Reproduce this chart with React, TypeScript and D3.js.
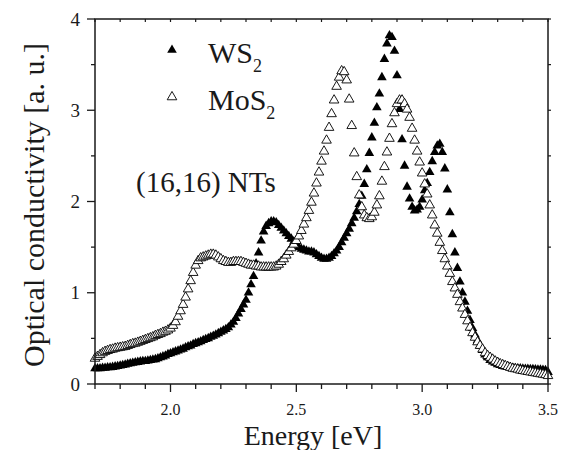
import React from "react";
import * as d3 from "d3";

// photon energy (eV), one point every 0.01 eV
const energy = [
  1.70, 1.71, 1.72, 1.73, 1.74, 1.75, 1.76, 1.77, 1.78, 1.79,
  1.80, 1.81, 1.82, 1.83, 1.84, 1.85, 1.86, 1.87, 1.88, 1.89,
  1.90, 1.91, 1.92, 1.93, 1.94, 1.95, 1.96, 1.97, 1.98, 1.99,
  2.00, 2.01, 2.02, 2.03, 2.04, 2.05, 2.06, 2.07, 2.08, 2.09,
  2.10, 2.11, 2.12, 2.13, 2.14, 2.15, 2.16, 2.17, 2.18, 2.19,
  2.20, 2.21, 2.22, 2.23, 2.24, 2.25, 2.26, 2.27, 2.28, 2.29,
  2.30, 2.31, 2.32, 2.33, 2.34, 2.35, 2.36, 2.37, 2.38, 2.39,
  2.40, 2.41, 2.42, 2.43, 2.44, 2.45, 2.46, 2.47, 2.48, 2.49,
  2.50, 2.51, 2.52, 2.53, 2.54, 2.55, 2.56, 2.57, 2.58, 2.59,
  2.60, 2.61, 2.62, 2.63, 2.64, 2.65, 2.66, 2.67, 2.68, 2.69,
  2.70, 2.71, 2.72, 2.73, 2.74, 2.75, 2.76, 2.77, 2.78, 2.79,
  2.80, 2.81, 2.82, 2.83, 2.84, 2.85, 2.86, 2.87, 2.88, 2.89,
  2.90, 2.91, 2.92, 2.93, 2.94, 2.95, 2.96, 2.97, 2.98, 2.99,
  3.00, 3.01, 3.02, 3.03, 3.04, 3.05, 3.06, 3.07, 3.08, 3.09,
  3.10, 3.11, 3.12, 3.13, 3.14, 3.15, 3.16, 3.17, 3.18, 3.19,
  3.20, 3.21, 3.22, 3.23, 3.24, 3.25, 3.26, 3.27, 3.28, 3.29,
  3.30, 3.31, 3.32, 3.33, 3.34, 3.35, 3.36, 3.37, 3.38, 3.39,
  3.40, 3.41, 3.42, 3.43, 3.44, 3.45, 3.46, 3.47, 3.48, 3.49,
  3.50,
];

// WS2 nanotube, filled triangles
const ws2 = [
  0.17, 0.17, 0.17, 0.175, 0.175, 0.18, 0.18, 0.185, 0.19, 0.195,
  0.2, 0.205, 0.21, 0.22, 0.225, 0.23, 0.235, 0.24, 0.245, 0.25,
  0.25, 0.255, 0.26, 0.265, 0.27, 0.28, 0.29, 0.3, 0.31, 0.325,
  0.335, 0.345, 0.355, 0.365, 0.375, 0.385, 0.4, 0.41, 0.42, 0.435,
  0.445, 0.455, 0.465, 0.48, 0.49, 0.5, 0.515, 0.525, 0.54, 0.555,
  0.57, 0.585, 0.6, 0.62, 0.65, 0.68, 0.72, 0.77, 0.82, 0.87,
  0.92, 1.0, 1.09, 1.18, 1.32, 1.44, 1.57, 1.67, 1.73, 1.76,
  1.78, 1.78, 1.77, 1.74, 1.71, 1.68, 1.65, 1.62, 1.59, 1.56,
  1.53, 1.5, 1.48, 1.47, 1.46, 1.45, 1.45, 1.44, 1.42, 1.4,
  1.38, 1.37, 1.37, 1.38, 1.4, 1.43, 1.46, 1.5, 1.55, 1.6,
  1.65, 1.7, 1.76, 1.82, 1.89, 1.97, 2.06, 2.19, 2.35, 2.53,
  2.7, 2.86, 3.03, 3.18, 3.36, 3.56, 3.73, 3.82, 3.8, 3.65,
  3.38, 3.01, 2.68, 2.39, 2.16, 2.03, 1.94, 1.9, 1.91, 1.94,
  2.02, 2.12, 2.2, 2.32, 2.44, 2.54, 2.61, 2.63, 2.54, 2.36,
  2.13, 1.88, 1.64, 1.44, 1.27, 1.12, 1.0, 0.9, 0.8, 0.7,
  0.61, 0.54, 0.48, 0.42, 0.37, 0.32, 0.29, 0.26, 0.245, 0.23,
  0.215, 0.205, 0.195, 0.19, 0.185, 0.18, 0.175, 0.172, 0.17, 0.168,
  0.166, 0.165, 0.163, 0.162, 0.16, 0.158, 0.156, 0.155, 0.153, 0.15,
  0.13,
];

// MoS2 nanotube, open triangles
const mos2 = [
  0.28, 0.3, 0.32, 0.34, 0.355, 0.365, 0.375, 0.38, 0.39, 0.395,
  0.4, 0.405, 0.41, 0.42, 0.43, 0.44, 0.445, 0.455, 0.465, 0.475,
  0.485, 0.495, 0.505, 0.515, 0.53, 0.54, 0.55, 0.565, 0.575, 0.59,
  0.61, 0.64, 0.68, 0.74, 0.8, 0.87, 0.95, 1.04, 1.13, 1.22,
  1.3, 1.35, 1.38, 1.39, 1.4, 1.41, 1.42, 1.42, 1.41, 1.39,
  1.37, 1.35, 1.34, 1.33, 1.33, 1.34, 1.34, 1.34, 1.34, 1.33,
  1.32, 1.31, 1.3, 1.3, 1.29, 1.29, 1.28, 1.28, 1.28, 1.28,
  1.28, 1.28, 1.29, 1.31, 1.34, 1.37, 1.41, 1.45, 1.49, 1.53,
  1.57, 1.62, 1.68, 1.75, 1.82, 1.9, 1.99, 2.09, 2.2, 2.32,
  2.44, 2.55, 2.67, 2.81, 2.96, 3.11, 3.26, 3.36, 3.43, 3.42,
  3.33, 3.12, 2.83, 2.53, 2.27, 2.07, 1.94, 1.85, 1.82, 1.81,
  1.83, 1.88, 1.96, 2.06, 2.22, 2.38, 2.54, 2.69, 2.85, 2.97,
  3.07, 3.11, 3.11, 3.07, 3.01, 2.92, 2.8, 2.67, 2.55, 2.43,
  2.31, 2.19, 2.08, 1.96, 1.85, 1.74, 1.65, 1.55, 1.46, 1.37,
  1.29, 1.21, 1.12, 1.05, 0.98, 0.9, 0.83, 0.76, 0.69, 0.62,
  0.56, 0.51, 0.46, 0.42, 0.38, 0.34, 0.31, 0.29, 0.27, 0.25,
  0.235, 0.22, 0.21, 0.2, 0.19, 0.18, 0.17, 0.165, 0.16, 0.15,
  0.145, 0.14, 0.135, 0.13, 0.125, 0.12, 0.115, 0.11, 0.105, 0.1,
  0.09,
];

const xTickLabels = ["2.0", "2.5", "3.0", "3.5"];
const yTickLabels = ["0", "1", "2", "3", "4"];

const serif = "Liberation Serif, Times New Roman, Times, serif";

export default function App() {
  const width = 564;
  const height = 450;
  const left = 95, right = 548, top = 19, bottom = 384;

  const x = d3.scaleLinear().domain([1.7, 3.5]).range([left, right]);
  const y = d3.scaleLinear().domain([0, 4]).range([bottom, top]);

  const tri = d3.symbol().type(d3.symbolTriangle).size(40)() as string;

  const xMinor = x.ticks(18);
  const yMinor = y.ticks(8);
  const ink = "#1a1a1a";
  const txt = { fontFamily: serif };

  return (
    <svg
      width={width}
      height={height}
      style={{ position: "absolute", left: 0, top: 0, background: "#fff", fontFamily: serif }}
    >
      {/* WS2 first, MoS2 drawn on top */}
      <g>
        {energy.map((e, i) => (
          <path key={"w" + i} d={tri} transform={`translate(${x(e)},${y(ws2[i])})`} fill="#000" />
        ))}
      </g>
      <g>
        {energy.map((e, i) => (
          <path
            key={"m" + i}
            d={tri}
            transform={`translate(${x(e)},${y(mos2[i])})`}
            fill="#fff"
            stroke="#000"
            strokeWidth={0.9}
          />
        ))}
      </g>

      {/* frame */}
      <rect x={left} y={top} width={right - left} height={bottom - top} fill="none" stroke={ink} strokeWidth={1.5} />

      {/* bottom / top ticks */}
      {xMinor.map((t, i) => {
        const major = Math.abs(t * 2 - Math.round(t * 2)) < 1e-6;
        return (
          <g key={"xt" + i}>
            <line x1={x(t)} x2={x(t)} y1={bottom} y2={bottom + (major ? 8 : 5)} stroke={ink} strokeWidth={1.3} />
            <line x1={x(t)} x2={x(t)} y1={top} y2={top + 3} stroke={ink} strokeWidth={1.2} />
          </g>
        );
      })}
      {xTickLabels.map((l) => (
        <text key={l} style={txt} x={x(+l)} y={415} fontSize={16} textAnchor="middle" fill={ink}>
          {l}
        </text>
      ))}

      {/* left / right ticks */}
      {yMinor.map((t, i) => {
        const major = Number.isInteger(t);
        return (
          <g key={"yt" + i}>
            <line x1={left - (major ? 8 : 4)} x2={left} y1={y(t)} y2={y(t)} stroke={ink} strokeWidth={1.3} />
            <line x1={right} x2={right + 3} y1={y(t)} y2={y(t)} stroke={ink} strokeWidth={1.2} />
          </g>
        );
      })}
      {yTickLabels.map((l) => (
        <text key={l} style={txt} x={80} y={y(+l) + 6.5} fontSize={19} textAnchor="end" fill={ink}>
          {l}
        </text>
      ))}

      {/* axis titles */}
      <text style={txt} x={313} y={445} fontSize={28} textAnchor="middle" fill={ink}>
        Energy [eV]
      </text>
      <text style={txt} transform="translate(44,205) rotate(-90)" fontSize={30} textAnchor="middle" fill={ink}>
        Optical conductivity [a. u.]
      </text>

      {/* legend */}
      <path d={tri} transform="translate(172,50)" fill="#000" />
      <text style={txt} x={208} y={63} fontSize={30} fill={ink}>
        WS<tspan fontSize={18} dy={9}>2</tspan>
      </text>
      <path d={tri} transform="translate(172,97)" fill="#fff" stroke="#000" strokeWidth={0.9} />
      <text style={txt} x={208} y={110} fontSize={30} fill={ink}>
        MoS<tspan fontSize={18} dy={9}>2</tspan>
      </text>
      <text style={txt} x={136} y={192} fontSize={29} fill={ink}>
        (16,16) NTs
      </text>
    </svg>
  );
}
